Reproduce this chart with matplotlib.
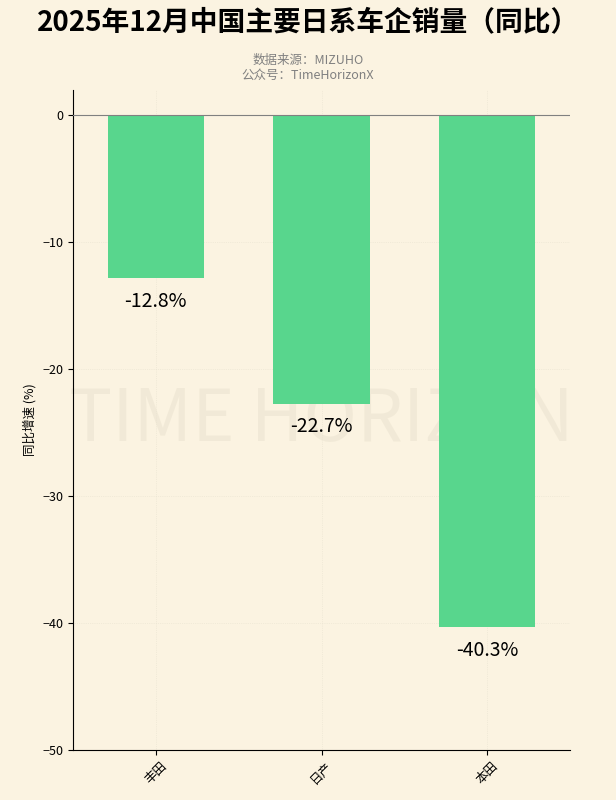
import matplotlib
matplotlib.use("Agg")
import matplotlib.pyplot as plt

plt.rcParams['font.family'] = ['Noto Sans CJK SC', 'DejaVu Sans']
categories = ['丰田', '日产', '本田']
values = [-12.8, -22.7, -40.3]
labels = ['-12.8%', '-22.7%', '-40.3%']

bg = '#FBF3E1'
fig = plt.figure(figsize=(6.16, 8), dpi=100, facecolor=bg)
ax = fig.add_axes([73/616, 50/800, 497/616, 660/800], facecolor=bg)
x = range(len(categories))
ax.bar(x, values, width=0.58, color='#58D68D', zorder=2)
for i, (v, l) in enumerate(zip(values, labels)):
    ax.text(i, v - 1.0, l, ha='center', va='top', fontsize=14, color='black', zorder=3)
ax.axhline(0, color='gray', lw=0.8, zorder=3)
ax.set_ylim(-50, 2)
ax.set_xlim(-0.5, 2.5)
ax.set_xticks(list(x))
ax.set_xticklabels(categories, rotation=45, fontsize=9)
ax.set_yticks([0, -10, -20, -30, -40, -50])
ax.set_yticklabels(['0', '−10', '−20', '−30', '−40', '−50'], fontsize=9)
ax.set_ylabel('同比增速 (%)', fontsize=9)
ax.grid(True, color='#e8e2d0', lw=0.5, ls=':', zorder=0)
for s in ['top', 'right']:
    ax.spines[s].set_visible(False)
ax.text(0.5, 0.5, 'TIME HORIZON', transform=ax.transAxes, ha='center', va='center',
        fontsize=52, color='#b0a890', alpha=0.12, zorder=1)
fig.text(0.5, 0.972, '2025年12月中国主要日系车企销量（同比）', ha='center', va='center',
         fontsize=20, fontweight='bold')
fig.text(0.5, 0.915, '数据来源：MIZUHO\n公众号：TimeHorizonX', ha='center', va='center',
         fontsize=9, color='gray', linespacing=1.2)
fig.savefig('out.png', dpi=100, facecolor=bg)
